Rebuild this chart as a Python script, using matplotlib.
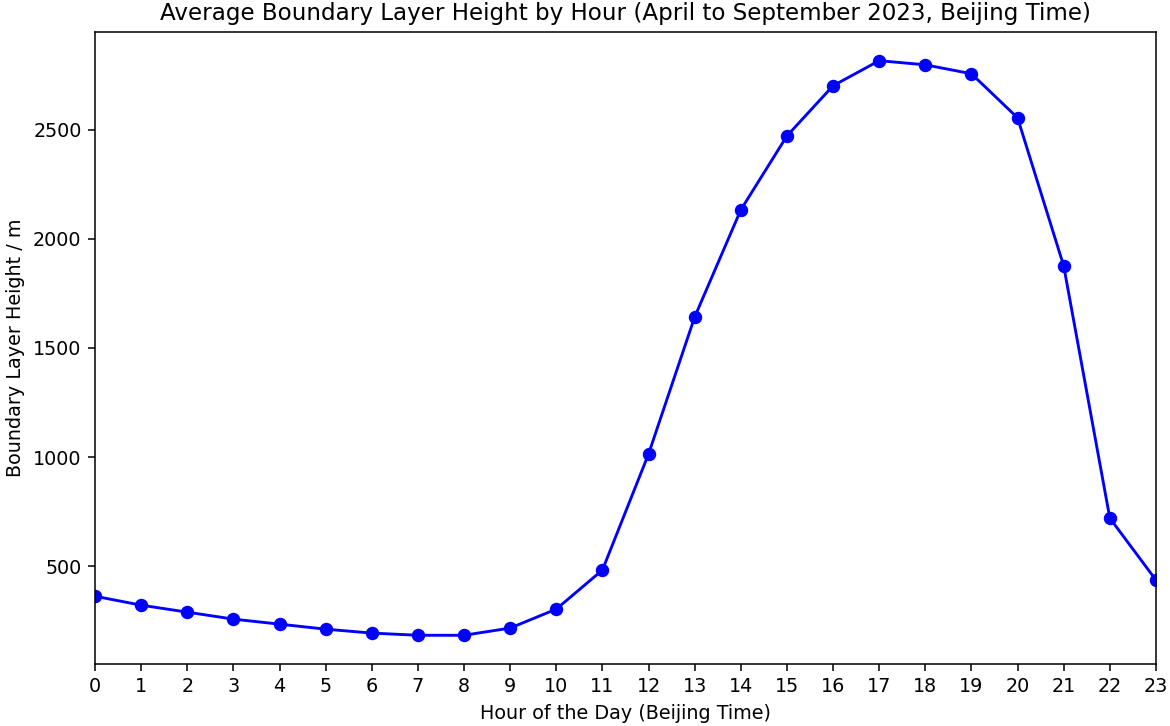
import matplotlib
matplotlib.use("Agg")
import matplotlib.pyplot as plt

# Hourly averages
hours = list(range(24))
height = [362, 321, 289, 257, 234, 211, 193, 183, 183, 216, 303, 482,
          1014, 1642, 2133, 2472, 2702, 2817, 2798, 2757, 2555, 1876, 720, 436]

dpi = 138
fig, ax = plt.subplots(figsize=(1170 / dpi, 726 / dpi), dpi=dpi)
fig.subplots_adjust(left=0.0812, right=0.988, top=0.956, bottom=0.0854)

ax.plot(hours, height, color='blue', marker='o')

ax.set_xlim(0, 23)
ax.set_xticks(hours)
ax.set_yticks([500, 1000, 1500, 2000, 2500])

ax.set_xlabel('Hour of the Day (Beijing Time)')
ax.set_ylabel('Boundary Layer Height / m')
ax.set_title('Average Boundary Layer Height by Hour (April to September 2023, Beijing Time)')

plt.savefig("out.png", dpi=dpi)
